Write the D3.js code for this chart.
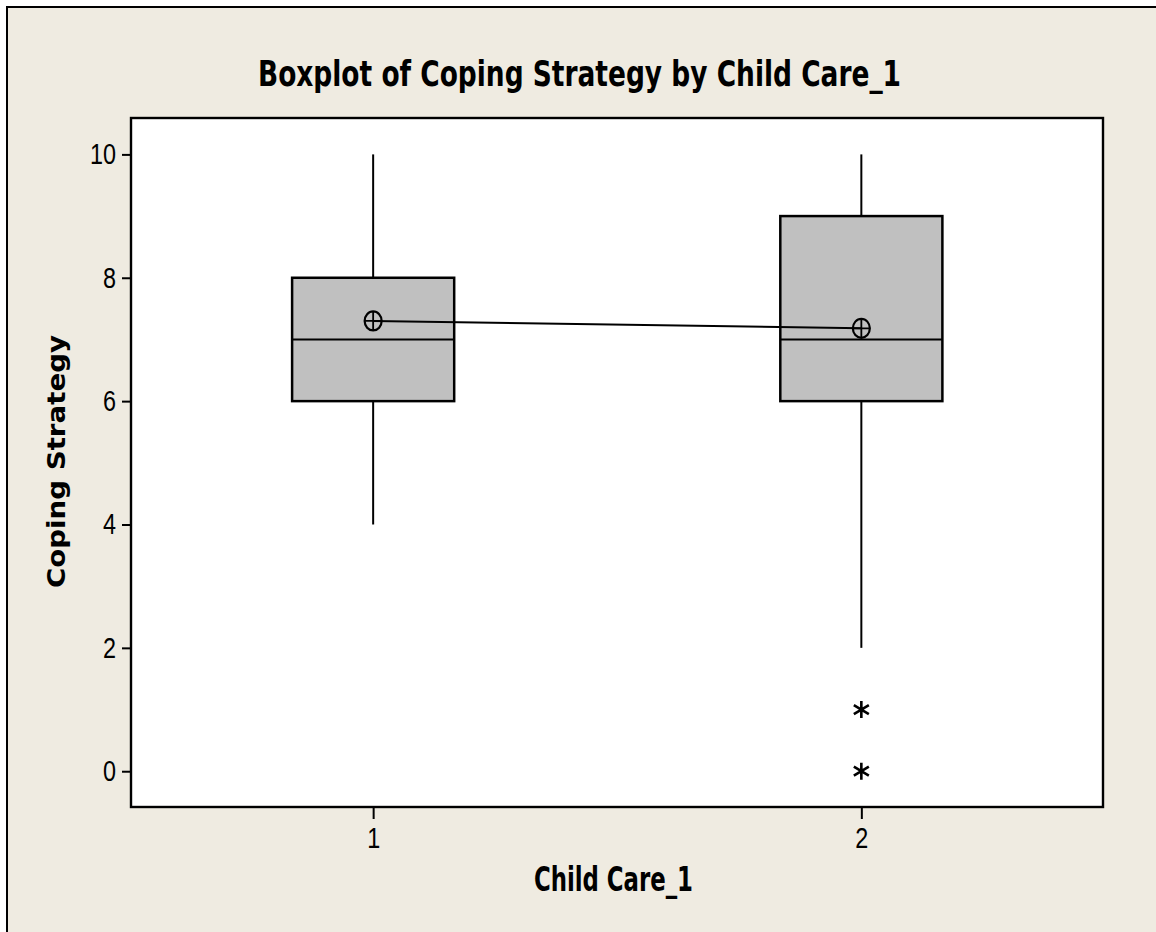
<!DOCTYPE html>
<html>
<head>
<meta charset="utf-8">
<script src="https://cdn.jsdelivr.net/npm/d3@7"></script>
<style>
  html, body { margin: 0; padding: 0; background: #ffffff; }
  svg { display: block; }
</style>
</head>
<body>
<div id="chart"></div>
<script>
// Coping Strategy scores by Child Care_1 group
const categories = [1, 2];
const q1 = [6, 6];
const median = [7, 7];
const q3 = [8, 9];
const whiskerLow = [4, 2];
const whiskerHigh = [10, 10];
const means = [7.3, 7.18];
const outliers = [[], [1, 0]];
const yTicks = [0, 2, 4, 6, 8, 10];

const W = 1156, H = 932;
const plot = { left: 131, right: 1103, top: 118, bottom: 807 };

const svg = d3.select("#chart").append("svg")
  .attr("width", W).attr("height", H);

// page background and outer frame
svg.append("rect").attr("x", 0).attr("y", 0).attr("width", W).attr("height", H)
  .attr("fill", "#ffffff");
svg.append("rect").attr("x", 7).attr("y", 7).attr("width", W + 10).attr("height", H + 10)
  .attr("fill", "#EFEBE1").attr("stroke", "#000").attr("stroke-width", 2);

// data region
svg.append("rect")
  .attr("x", plot.left).attr("y", plot.top)
  .attr("width", plot.right - plot.left).attr("height", plot.bottom - plot.top)
  .attr("fill", "#ffffff").attr("stroke", "#000").attr("stroke-width", 2.4);

const x = d3.scaleLinear().domain([0.504, 2.495]).range([plot.left, plot.right]);
const y = d3.scaleLinear().domain([-0.58, 10.59]).range([plot.bottom, plot.top]);
const halfBox = 0.166;

const narrowFont = "'Liberation Sans Narrow', 'DejaVu Sans Condensed', sans-serif";
const tickFont = "'Liberation Sans', Arial, sans-serif";
const digitWidth = 13;

// axes
const yAxis = d3.axisLeft(y).tickValues(yTicks).tickSize(9).tickPadding(6)
  .tickFormat(d3.format("d"));
const gy = svg.append("g").attr("transform", `translate(${plot.left},0)`).call(yAxis);
gy.select(".domain").remove();
gy.selectAll(".tick line").attr("stroke", "#000").attr("stroke-width", 2);
gy.selectAll(".tick text").attr("font-family", tickFont)
  .attr("font-size", 29).attr("fill", "#000")
  .attr("textLength", d => String(d).length * digitWidth)
  .attr("lengthAdjust", "spacingAndGlyphs");

const xAxis = d3.axisBottom(x).tickValues(categories).tickSize(12).tickPadding(8)
  .tickFormat(d3.format("d"));
const gx = svg.append("g").attr("transform", `translate(0,${plot.bottom})`).call(xAxis);
gx.select(".domain").remove();
gx.selectAll(".tick line").attr("stroke", "#000").attr("stroke-width", 2);
gx.selectAll(".tick text").attr("font-family", tickFont)
  .attr("font-size", 29).attr("fill", "#000")
  .attr("textLength", d => String(d).length * digitWidth)
  .attr("lengthAdjust", "spacingAndGlyphs");

// boxes
const groups = categories.map((c, i) => ({
  c, q1: q1[i], med: median[i], q3: q3[i], lo: whiskerLow[i], hi: whiskerHigh[i],
  mean: means[i], out: outliers[i]
}));

const g = svg.append("g");
groups.forEach(d => {
  // whiskers
  g.append("line").attr("x1", x(d.c)).attr("x2", x(d.c)).attr("y1", y(d.hi)).attr("y2", y(d.q3))
    .attr("stroke", "#000").attr("stroke-width", 2);
  g.append("line").attr("x1", x(d.c)).attr("x2", x(d.c)).attr("y1", y(d.q1)).attr("y2", y(d.lo))
    .attr("stroke", "#000").attr("stroke-width", 2);
  // box
  g.append("rect")
    .attr("x", x(d.c - halfBox)).attr("y", y(d.q3))
    .attr("width", x(d.c + halfBox) - x(d.c - halfBox)).attr("height", y(d.q1) - y(d.q3))
    .attr("fill", "#C0C0C0").attr("stroke", "#000").attr("stroke-width", 2.5);
  // median
  g.append("line").attr("x1", x(d.c - halfBox)).attr("x2", x(d.c + halfBox))
    .attr("y1", y(d.med)).attr("y2", y(d.med))
    .attr("stroke", "#000").attr("stroke-width", 2);
});

// mean connect line
svg.append("path")
  .datum(groups)
  .attr("d", d3.line().x(d => x(d.c)).y(d => y(d.mean)))
  .attr("fill", "none").attr("stroke", "#000").attr("stroke-width", 2);

// mean symbols: circle with crosshair
groups.forEach(d => {
  const cx = x(d.c), cy = y(d.mean), rx = 8.5, ry = 9.5;
  svg.append("ellipse").attr("cx", cx).attr("cy", cy).attr("rx", rx).attr("ry", ry)
    .attr("fill", "none").attr("stroke", "#000").attr("stroke-width", 2.2);
  svg.append("path")
    .attr("d", `M${cx - rx},${cy}H${cx + rx}M${cx},${cy - ry}V${cy + ry}`)
    .attr("stroke", "#000").attr("stroke-width", 1.8);
});

// outliers drawn as asterisks
groups.forEach(d => {
  d.out.forEach(v => {
    const cx = x(d.c), cy = y(v), s = 8.5;
    const a = 7.5, b = 4.5;
    svg.append("path")
      .attr("d", `M${cx},${cy - s}V${cy + s}M${cx - a},${cy - b}L${cx + a},${cy + b}M${cx - a},${cy + b}L${cx + a},${cy - b}`)
      .attr("stroke", "#000").attr("stroke-width", 2.6).attr("fill", "none");
  });
});

// titles
svg.append("text")
  .attr("x", 579.5).attr("y", 86)
  .attr("text-anchor", "middle")
  .attr("font-family", narrowFont)
  .attr("font-weight", "bold").attr("font-size", 36)
  .attr("textLength", 643).attr("lengthAdjust", "spacingAndGlyphs")
  .text("Boxplot of Coping Strategy by Child Care_1");

svg.append("text")
  .attr("x", 613.5).attr("y", 891)
  .attr("text-anchor", "middle")
  .attr("font-family", narrowFont)
  .attr("font-weight", "bold").attr("font-size", 33)
  .attr("textLength", 159).attr("lengthAdjust", "spacingAndGlyphs")
  .text("Child Care_1");

svg.append("text")
  .attr("transform", "translate(65,461.5) rotate(-90)")
  .attr("text-anchor", "middle")
  .attr("font-family", "'DejaVu Sans', Verdana, sans-serif")
  .attr("font-weight", "bold").attr("font-size", 24)
  .attr("textLength", 253).attr("lengthAdjust", "spacingAndGlyphs")
  .text("Coping Strategy");
</script>
</body>
</html>
